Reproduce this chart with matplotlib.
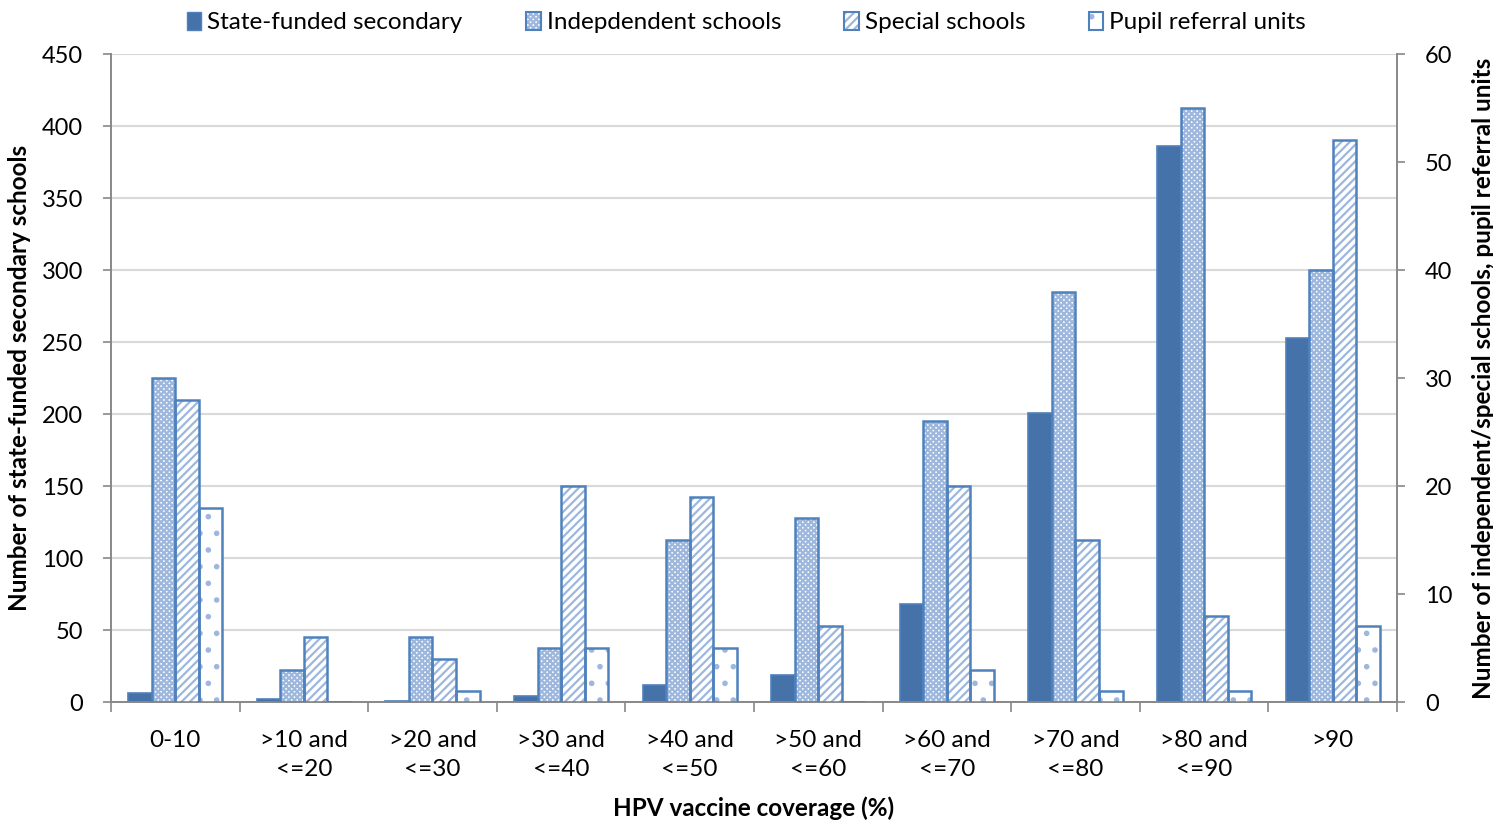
import numpy as np
import matplotlib.pyplot as plt
from matplotlib.patches import Patch
from matplotlib.legend_handler import HandlerTuple

plt.rcParams['font.family'] = ['Lato', 'DejaVu Sans']
plt.rcParams['hatch.linewidth'] = 1.6

categories = ['0-10', '>10 and\n<=20', '>20 and\n<=30', '>30 and\n<=40', '>40 and\n<=50',
              '>50 and\n<=60', '>60 and\n<=70', '>70 and\n<=80', '>80 and\n<=90', '>90']

# left axis
state_funded = [6, 2, 1, 4, 12, 19, 68, 201, 386, 253]
# right axis
independent = [30, 3, 6, 5, 15, 17, 26, 38, 55, 40]
special = [28, 6, 4, 20, 19, 7, 20, 15, 8, 52]
pupil_referral = [18, 0, 1, 5, 5, 0, 3, 1, 1, 7]

edge = '#4F81BD'
dark = '#4672AA'
light = '#9DB7DD'

fig, ax = plt.subplots(figsize=(14.93, 8.25), dpi=100)
fig.subplots_adjust(left=0.0743, right=0.9357, bottom=0.149, top=0.9345)
ax2 = ax.twinx()

x = np.arange(len(categories))
w = 0.183
offs = [-1.5 * w, -0.5 * w, 0.5 * w, 1.5 * w]

ax.bar(x + offs[0], state_funded, w, color=dark, edgecolor=edge, linewidth=1.2, zorder=3)


def hatched(axis, pos, vals, hatch):
    axis.bar(pos, vals, w, color='white', edgecolor=light, hatch=hatch, linewidth=0, zorder=3)
    axis.bar(pos, vals, w, fill=False, edgecolor=edge, linewidth=1.8, zorder=4)


hatched(ax2, x + offs[1], independent, 'xxxxxx')
hatched(ax2, x + offs[2], special, '////')
hatched(ax2, x + offs[3], pupil_referral, '.')

ax.set_xlim(-0.5, len(categories) - 0.5)
ax.set_ylim(0, 450)
ax.set_yticks(range(0, 451, 50))
ax2.set_ylim(0, 60)
ax2.set_yticks(range(0, 61, 10))

ax.set_xticks(x)
ax.set_xticklabels(categories, fontsize=17.5, linespacing=1.45)
ax.set_xticks(np.arange(-0.5, len(categories)), minor=True)
ax.tick_params(axis='x', which='major', length=0, pad=20)
ax.tick_params(axis='x', which='minor', length=7, color='#888888', width=1.2)
ax.tick_params(axis='y', labelsize=17, length=6, color='#888888', width=1.2, pad=14)
ax2.tick_params(axis='y', labelsize=17, length=6, color='#888888', width=1.2, pad=14)

ax.grid(axis='y', color='#d9d9d9', linewidth=1.5, zorder=0)
ax.set_axisbelow(True)
for a in (ax, ax2):
    a.spines['top'].set_visible(False)
    for s in ('left', 'right', 'bottom'):
        a.spines[s].set_color('#888888')
        a.spines[s].set_linewidth(1.2)
ax2.set_zorder(ax.zorder + 1)
ax2.patch.set_visible(False)

ax.set_ylabel('Number of state-funded secondary schools', fontsize=17.5, fontweight='bold', labelpad=8)
ax2.set_ylabel('Number of independent/special schools, pupil referral units', fontsize=17.5,
               fontweight='bold', labelpad=14)
ax.set_xlabel('HPV vaccine coverage (%)', fontsize=17.5, fontweight='bold', labelpad=12)


def key(hatch):
    return (Patch(facecolor='white', edgecolor=light, hatch=hatch, linewidth=0),
            Patch(fill=False, edgecolor=edge, linewidth=1.5))


handles = [Patch(facecolor=dark, edgecolor=edge), key('xxxxxx'), key('////'), key('.')]
labels = ['State-funded secondary', 'Indepdendent schools', 'Special schools', 'Pupil referral units']
fig.legend(handles, labels, loc='upper center', bbox_to_anchor=(0.5, 1.012), ncol=4, frameon=False,
           fontsize=17.5, handlelength=0.6, handleheight=0.75, handletextpad=0.25, columnspacing=2.6,
           handler_map={tuple: HandlerTuple(ndivide=1)})

plt.savefig('out.png', dpi=100)
